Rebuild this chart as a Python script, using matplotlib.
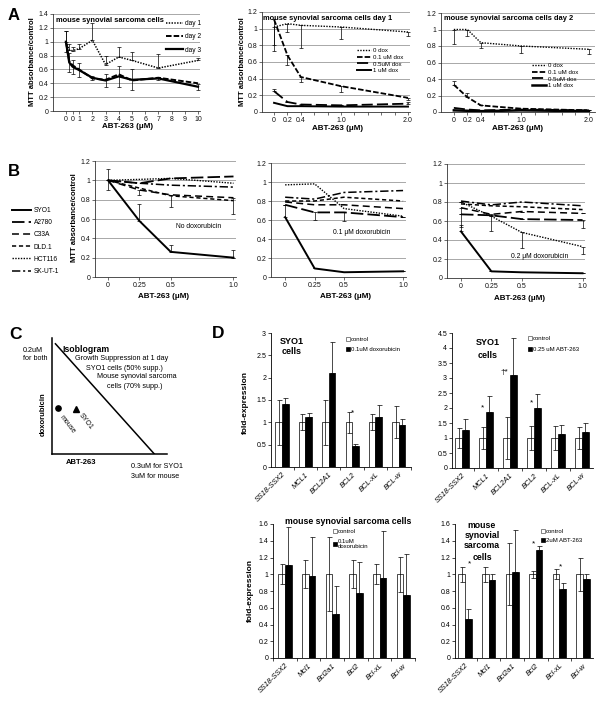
import matplotlib
matplotlib.use("Agg")
import matplotlib.pyplot as plt
from matplotlib.lines import Line2D
from matplotlib.patches import Patch
from matplotlib.ticker import FixedLocator, FuncFormatter
import numpy as np

plt.rcParams['font.family'] = ['Liberation Sans', 'DejaVu Sans']
plt.rcParams['lines.scale_dashes'] = False
plt.rcParams['axes.linewidth'] = 0.6

# ---------------- DATA ----------------
# Panel A1: mouse synovial sarcoma cells, days 1-3
a1_x = [0, 0.25, 0.5, 1, 2, 3, 4, 5, 7, 10]
a1_day1 = [1.0, 0.88, 0.87, 0.90, 1.02, 0.67, 0.78, 0.73, 0.62, 0.73]
a1_day1_err = [0.15, 0.08, 0.06, 0.06, 0.25, 0.13, 0.15, 0.12, 0.20, 0.04]
a1_day2 = [1.0, 0.72, 0.66, 0.60, 0.47, 0.45, 0.53, 0.44, 0.48, 0.40]
a1_day3 = [1.0, 0.70, 0.64, 0.59, 0.48, 0.44, 0.50, 0.45, 0.47, 0.35]
a1_day3_err = [0.15, 0.13, 0.10, 0.10, 0.03, 0.10, 0.15, 0.15, 0.02, 0.04]
a1_xticks = [0, 0.5, 1, 2, 3, 4, 5, 6, 7, 8, 9, 10]
a1_xticklabels = ['0', '0', '1', '2', '3', '4', '5', '6', '7', '8', '9', '10']
a1_labels = ['day 1', 'day 2', 'day 3']

# Panel A2 / A3: dox combinations
a_x = [0, 0.2, 0.4, 1.0, 2.0]
a_labels = ['0 dox', '0.1 uM dox', '0.5uM dox', '1 uM dox']
a2_dox0 = [1.02, 1.06, 1.04, 1.02, 0.96]
a2_dox0_err = [0.22, 0.10, 0.27, 0.14, 0.05]
a2_dox01 = [1.11, 0.68, 0.42, 0.31, 0.17]
a2_dox01_err = [0.38, 0.11, 0.06, 0.07, 0.03]
a2_dox05 = [0.25, 0.12, 0.09, 0.08, 0.10]
a2_dox05_err = [0.03, 0.0, 0.01, 0.01, 0.02]
a2_dox1 = [0.11, 0.07, 0.07, 0.065, 0.065]

a3_dox0 = [1.0, 1.0, 0.84, 0.80, 0.76]
a3_dox0_err = [0.18, 0.08, 0.06, 0.08, 0.06]
a3_dox01 = [0.33, 0.18, 0.08, 0.04, 0.02]
a3_dox01_err = [0.05, 0.05, 0.0, 0.0, 0.0]
a3_dox05 = [0.05, 0.03, 0.02, 0.03, 0.02]
a3_dox1 = [0.02, 0.015, 0.01, 0.02, 0.01]

a23_xticks = [0, 0.2, 0.4, 1.0, 2.0]
a23_xticklabels = ['0', '0.2', '0.4', '1.0', '2.0']

# Panel B: cell lines
b_x = [0, 0.25, 0.5, 1.0]
b_xticklabels = ['0', '0.25', '0.5', '1.0']
b_names = ['SYO1', 'A2780', 'C33A', 'DLD.1', 'HCT116', 'SK-UT-1']
b1_vals = {
    'SYO1':    [1.0, 0.58, 0.26, 0.20],
    'A2780':   [1.0, 0.97, 1.02, 1.04],
    'C33A':    [1.0, 0.90, 0.85, 0.82],
    'DLD.1':   [1.0, 0.92, 0.84, 0.79],
    'HCT116':  [1.0, 1.01, 1.02, 0.97],
    'SK-UT-1': [1.0, 0.97, 0.95, 0.93],
}
b2_vals = {
    'SYO1':    [0.63, 0.09, 0.05, 0.06],
    'A2780':   [0.76, 0.68, 0.68, 0.63],
    'C33A':    [0.79, 0.76, 0.76, 0.72],
    'DLD.1':   [0.80, 0.80, 0.84, 0.80],
    'HCT116':  [0.97, 0.98, 0.72, 0.64],
    'SK-UT-1': [0.84, 0.82, 0.89, 0.91],
}
b3_vals = {
    'SYO1':    [0.49, 0.07, 0.06, 0.05],
    'A2780':   [0.67, 0.66, 0.62, 0.61],
    'C33A':    [0.74, 0.67, 0.70, 0.68],
    'DLD.1':   [0.78, 0.76, 0.75, 0.72],
    'HCT116':  [0.80, 0.65, 0.48, 0.33],
    'SK-UT-1': [0.81, 0.77, 0.80, 0.76],
}
# error bars (series, lower, upper)
b1_err = [('SYO1', [0.10, 0, 0, 0], [0.12, 0.18, 0.07, 0.08]),
          ('C33A', [0, 0.05, 0.13, 0.17], [0, 0, 0, 0])]
b2_err = [('SYO1', [0, 0, 0, 0], [0.13, 0, 0, 0]),
          ('A2780', [0, 0.08, 0.09, 0.0], [0, 0, 0, 0])]
b3_err = [('SYO1', [0, 0, 0, 0], [0.07, 0, 0, 0]),
          ('C33A', [0.2, 0.17, 0.0, 0.0], [0, 0, 0, 0]),
          ('HCT116', [0, 0, 0.16, 0.08], [0, 0, 0, 0]),
          ('A2780', [0, 0, 0.0, 0.08], [0, 0, 0, 0])]
b_notes = ['No doxorubicin', '0.1 \u03bcM doxorubicin', '0.2 \u03bcM doxorubicin']

# Panel C: isobologram
c_iso_x = [0.03, 0.89]
c_iso_y = [0.95, 0.0]
c_mouse = (0.05, 0.40)
c_syo1 = (0.21, 0.39)

# Panel D: fold expression
d_cats_human = ['SS18-SSX2', 'MCL1', 'BCL2A1', 'BCL2', 'BCL-xL', 'BCL-w']
d_cats_mouse = ['SS18-SSX2', 'Mcl1', 'Bcl2a1', 'Bcl2', 'Bcl-xL', 'Bcl-w']

d1_ctrl = [1, 1, 1, 1, 1, 1]
d1_ctrl_err = [0.50, 0.18, 0.50, 0.24, 0.18, 0.36]
d1_trt = [1.40, 1.12, 2.10, 0.46, 1.12, 0.93]
d1_trt_err = [0.15, 0.10, 0.70, 0.06, 0.26, 0.15]
d1_legend = ['control', '0.1uM doxorubicin']

d2_ctrl = [1, 1, 1, 1, 1, 1]
d2_ctrl_err = [0.33, 0.37, 0.70, 0.40, 0.40, 0.37]
d2_trt = [1.28, 1.87, 3.10, 2.00, 1.13, 1.20]
d2_trt_err = [0.34, 0.53, 1.23, 0.47, 0.30, 0.30]
d2_legend = ['control', '0.25 uM ABT-263']

d3_ctrl = [1, 1, 1, 1, 1, 1]
d3_ctrl_err = [0.12, 0.17, 0.44, 0.17, 0.12, 0.21]
d3_trt = [1.11, 0.98, 0.53, 0.78, 0.95, 0.75]
d3_trt_err = [0.45, 0.46, 0.33, 0.37, 0.57, 0.49]
d3_legend = ['control', '0.1uM\ndoxorubicin']

d4_ctrl = [1, 1, 1, 1, 1, 1]
d4_ctrl_err = [0.09, 0.09, 0.37, 0.04, 0.06, 0.20]
d4_trt = [0.46, 0.93, 1.03, 1.29, 0.82, 0.94]
d4_trt_err = [0.13, 0.07, 0.50, 0.05, 0.07, 0.06]
d4_legend = ['control', '2uM ABT-263']

d2_marks = [(0.85, 2.0, '*'), (1.78, 3.18, '\u2020*'), (2.88, 2.17, '*')]
d1_marks = [(3.02, 1.22, '*')]
d4_marks = [(0.18, 1.12, '*'), (2.92, 1.36, '*'), (4.05, 1.09, '*')]

# ---------------- FIGURE ----------------
W, H = 601, 701
fig = plt.figure(figsize=(W / 100, H / 100), dpi=100)
fig.patch.set_facecolor('white')


def px_axes(x0, y0, x1, y1):
    return fig.add_axes([x0 / W, 1 - y1 / H, (x1 - x0) / W, (y1 - y0) / H])


def ftext(x, y, s, **kw):
    kw.setdefault('ha', 'center')
    kw.setdefault('va', 'center')
    return fig.text(x / W, 1 - y / H, s, **kw)


fmt_g = FuncFormatter(lambda v, p: f'{v:g}')
INK = '#111111'


def style_line_axes(ax, ymax):
    ax.set_ylim(0, ymax)
    ax.set_yticks(np.round(np.arange(0, ymax + 0.001, 0.2), 1))
    ax.yaxis.set_major_formatter(fmt_g)
    ax.yaxis.grid(True, color='#a8a8a8', lw=0.7)
    ax.set_axisbelow(True)
    for s in ['top', 'right']:
        ax.spines[s].set_visible(False)
    for s in ['left', 'bottom']:
        ax.spines[s].set_color('#333333')
    ax.tick_params(direction='out', length=2, width=0.5, labelsize=5, pad=1.5,
                   colors='#333333', labelcolor=INK)


def errs(ax, x, y, lo, hi):
    ax.errorbar(x, y, yerr=[lo, hi], fmt='none', ecolor='k', elinewidth=0.5,
                capsize=1.6, capthick=0.5, zorder=4, clip_on=False)


def legend_at(ax, handles, labels, x, y, fs, hl, ls, tp=0.3):
    return ax.legend(handles, labels, loc='upper left',
                     bbox_to_anchor=(x / W, 1 - y / H), bbox_transform=fig.transFigure,
                     frameon=False, fontsize=fs, handlelength=hl, handletextpad=tp,
                     labelspacing=ls, borderpad=0, borderaxespad=0)


# ---- Panel A1 ----
ax = px_axes(53, 14, 200, 111)
style_line_axes(ax, 1.4)
ax.set_xlim(-0.98, 10.15)
l1, = ax.plot(a1_x, a1_day1, color='k', lw=1.1, ls=(0, (1, 1)))
l2, = ax.plot(a1_x, a1_day2, color='k', lw=1.4, ls=(0, (4, 1.5)))
l3, = ax.plot(a1_x, a1_day3, color='k', lw=1.6, ls='-')
errs(ax, a1_x, a1_day1, [0] * len(a1_x), a1_day1_err)
errs(ax, a1_x, a1_day3, a1_day3_err, a1_day3_err)
ax.set_xticks(a1_xticks)
ax.set_xticklabels(a1_xticklabels)
ax.text(0.02, 0.97, 'mouse synovial sarcoma cells', transform=ax.transAxes,
        fontsize=5.4, fontweight='bold', ha='left', va='top')
legend_at(ax, [l1, l2, l3], a1_labels, 166, 20, 4.8, 2.6, 0.95)

# ---- Panel A2 ----
ax = px_axes(262, 12, 410, 112)
style_line_axes(ax, 1.2)
ax.set_xlim(-0.18, 2.03)
h0, = ax.plot(a_x, a2_dox0, color='k', lw=1.0, ls=(0, (1, 1)))
h1, = ax.plot(a_x, a2_dox01, color='k', lw=1.3, ls=(0, (4, 1.5)))
h2, = ax.plot(a_x, a2_dox05, color='k', lw=1.3, ls=(0, (8, 3)))
h3, = ax.plot(a_x, a2_dox1, color='k', lw=1.4, ls='-')
errs(ax, a_x, a2_dox0, a2_dox0_err, [0] * 5)
errs(ax, a_x, a2_dox01, a2_dox01_err, [0] * 5)
errs(ax, a_x, a2_dox05, [0] * 5, a2_dox05_err)
ax.set_xticks(a23_xticks)
ax.set_xticklabels(a23_xticklabels)
ax.xaxis.set_minor_locator(FixedLocator([0.6, 0.8, 1.2, 1.4, 1.6, 1.8]))
ax.tick_params(which='minor', direction='out', length=2, width=0.5, colors='#333333')
ax.text(0.01, 0.975, 'mouse synovial sarcoma cells day 1', transform=ax.transAxes,
        fontsize=5.4, fontweight='bold', ha='left', va='top')
legend_at(ax, [h0, h1, h2, h3], a_labels, 357, 48, 4.4, 2.3, 0.22)

# ---- Panel A3 ----
ax = px_axes(441, 13, 595, 112)
style_line_axes(ax, 1.2)
ax.set_xlim(-0.19, 2.09)
h0, = ax.plot(a_x, a3_dox0, color='k', lw=1.0, ls=(0, (1, 1)))
h1, = ax.plot(a_x, a3_dox01, color='k', lw=1.3, ls=(0, (4, 1.5)))
h2, = ax.plot(a_x, a3_dox05, color='k', lw=1.3, ls=(0, (8, 3)))
h3, = ax.plot(a_x, a3_dox1, color='k', lw=1.8, ls='-')
errs(ax, a_x, a3_dox0, a3_dox0_err, [0] * 5)
errs(ax, a_x, a3_dox01, [0] * 5, a3_dox01_err)
ax.set_xticks(a23_xticks)
ax.set_xticklabels(a23_xticklabels)
ax.xaxis.set_minor_locator(FixedLocator([0.6, 0.8, 1.2, 1.4, 1.6, 1.8]))
ax.tick_params(which='minor', direction='out', length=2, width=0.5, colors='#333333')
ax.text(0.02, 0.975, 'mouse synovial sarcoma cells day 2', transform=ax.transAxes,
        fontsize=5.4, fontweight='bold', ha='left', va='top')
legend_at(ax, [h0, h1, h2, h3], a_labels, 532, 63, 4.4, 2.3, 0.22)

# A labels
ftext(33, 62, 'MTT absorbance/control', rotation=90, fontsize=5.5, fontweight='bold')
ftext(243, 62, 'MTT absorbance/control', rotation=90, fontsize=5.5, fontweight='bold')
ftext(128, 127, 'ABT-263 (\u03bcM)', fontsize=5.8, fontweight='bold')
ftext(338, 128, 'ABT-263 (\u03bcM)', fontsize=5.8, fontweight='bold')
ftext(518, 129, 'ABT-263 (\u03bcM)', fontsize=5.8, fontweight='bold')

# ---- Panel B ----
b_styles = {
    'SYO1':    dict(ls='-', lw=1.4),
    'A2780':   dict(ls=(0, (9, 3)), lw=1.3),
    'C33A':    dict(ls=(0, (5, 3)), lw=1.1),
    'DLD.1':   dict(ls=(0, (3, 2)), lw=1.1),
    'HCT116':  dict(ls=(0, (1, 1)), lw=1.0),
    'SK-UT-1': dict(ls=(0, (6, 2, 1.5, 2)), lw=1.1),
}
b_boxes = [(95, 161, 236, 277, (-0.104, 1.02)),
           (271, 163, 406, 277, (-0.12, 1.025)),
           (447, 164, 585, 278, (-0.115, 1.02))]
b_sets = [b1_vals, b2_vals, b3_vals]
b_errsets = [b1_err, b2_err, b3_err]
b_note_pos = [(199, 227), (362, 232), (540, 256)]
b_handles = []
for i, (box, vals, eset) in enumerate(zip(b_boxes, b_sets, b_errsets)):
    x0, y0, x1, y1, xl = box
    ax = px_axes(x0, y0, x1, y1)
    style_line_axes(ax, 1.2)
    ax.set_xlim(*xl)
    hs = []
    for name in b_names:
        h, = ax.plot(b_x, vals[name], color='k', **b_styles[name])
        hs.append(h)
    if i == 0:
        b_handles = hs
    for name, lo, hi in eset:
        errs(ax, b_x, vals[name], lo, hi)
    ax.set_xticks(b_x)
    ax.set_xticklabels(b_xticklabels)
    ftext(*b_note_pos[i], b_notes[i], fontsize=4.9)

fig.legend(b_handles, b_names, loc='upper left', bbox_to_anchor=(12 / W, 1 - 207 / H),
           frameon=False, fontsize=4.8, handlelength=2.9, handletextpad=0.35,
           labelspacing=0.78, borderpad=0, borderaxespad=0)
ftext(74, 218, 'MTT absorbance/control', rotation=90, fontsize=5.5, fontweight='bold')
ftext(163, 297, 'ABT-263 (\u03bcM)', fontsize=5.8, fontweight='bold')
ftext(345, 297, 'ABT-263 (\u03bcM)', fontsize=5.8, fontweight='bold')
ftext(520, 298, 'ABT-263 (\u03bcM)', fontsize=5.8, fontweight='bold')

# ---- Panel C ----
ax = px_axes(52, 338, 167, 454)
ax.set_xlim(0, 1)
ax.set_ylim(0, 1)
ax.set_xticks([])
ax.set_yticks([])
for s in ['top', 'right']:
    ax.spines[s].set_visible(False)
for s in ['left', 'bottom']:
    ax.spines[s].set_linewidth(1.1)
ax.plot(c_iso_x, c_iso_y, color='k', lw=1.1)
ax.plot([c_mouse[0]], [c_mouse[1]], 'o', color='k', ms=3.8, clip_on=False)
ax.plot([c_syo1[0]], [c_syo1[1]], '^', color='k', ms=3.8, clip_on=False)
ftext(23, 350, '0.2uM', fontsize=5.2, ha='left')
ftext(23, 359, 'for both', fontsize=5.2, ha='left')
ftext(62, 349, 'Isoblogram', fontsize=6.2, fontweight='bold', ha='left')
ftext(122, 359, 'Growth Suppression at 1 day', fontsize=5.2)
ftext(124, 368, 'SYO1 cells (50% supp.)', fontsize=5.2)
ftext(137, 377, 'Mouse synovial sarcoma', fontsize=5.2)
ftext(135, 387, 'cells (70% supp.)', fontsize=5.2)
ftext(43, 414, 'doxorubicin', rotation=90, fontsize=5.5, fontweight='bold')
ftext(67, 424, 'mouse', rotation=-52, fontsize=5.0)
ftext(86, 421, 'SYO1', rotation=-52, fontsize=5.0)
ftext(81, 463, 'ABT-263', fontsize=5.5, fontweight='bold')
ftext(131, 467, '0.3uM for SYO1', fontsize=5.2, ha='left')
ftext(131, 476, '3uM for mouse', fontsize=5.2, ha='left')

# ---- Panel D ----
def bar_panel(box, xl, cats, ctrl, ctrl_err, trt, trt_err, ymax, ystep):
    x0, y0, x1, y1 = box
    ax = px_axes(x0, y0, x1, y1)
    xs = np.arange(len(cats))
    w = 0.28
    ekw = dict(ecolor='k', elinewidth=0.5, capsize=1.8, capthick=0.5)
    ax.bar(xs - w / 2, ctrl, w, color='white', edgecolor='k', lw=0.5,
           yerr=[ctrl_err, ctrl_err], error_kw=ekw, zorder=2)
    ax.bar(xs + w / 2, trt, w, color='k', edgecolor='k', lw=0.5,
           yerr=[[0] * len(trt), trt_err], error_kw=ekw, zorder=2)
    ax.set_xlim(*xl)
    ax.set_ylim(0, ymax)
    ax.set_yticks(np.round(np.arange(0, ymax + 0.001, ystep), 2))
    ax.yaxis.set_major_formatter(fmt_g)
    ax.set_xticks(xs)
    ax.set_xticklabels(cats, rotation=45, ha='right', rotation_mode='anchor',
                       fontstyle='italic', fontsize=5.3)
    ax.xaxis.set_minor_locator(FixedLocator(np.arange(-0.5, len(cats) + 0.5, 1.0)))
    ax.tick_params(axis='x', which='major', length=0, pad=3)
    ax.tick_params(axis='x', which='minor', direction='out', length=2, width=0.5)
    ax.tick_params(axis='y', direction='out', length=2, width=0.5, labelsize=5, pad=1.5)
    for s in ['top', 'right']:
        ax.spines[s].set_visible(False)
    return ax


def d_legend(ax, labels, x, y, ls):
    hs = [Patch(facecolor='white', edgecolor='#555555', lw=0.5),
          Patch(facecolor='k', edgecolor='k', lw=0.5)]
    return ax.legend(hs, labels, loc='upper left', bbox_to_anchor=(x / W, 1 - y / H),
                     bbox_transform=fig.transFigure, frameon=False, fontsize=4.3,
                     handlelength=0.7, handleheight=0.7, handletextpad=0.15,
                     labelspacing=ls, borderpad=0, borderaxespad=0)


ax = bar_panel((271, 333, 411, 467), (-0.47, 5.52), d_cats_human,
               d1_ctrl, d1_ctrl_err, d1_trt, d1_trt_err, 3.0, 0.5)
for mx, my, ms in d1_marks:
    ax.text(mx, my, ms, fontsize=6, ha='center', va='center')
d_legend(ax, d1_legend, 346, 337, 0.75)
ftext(292, 341, 'SYO1', fontsize=6.5, fontweight='bold')
ftext(292, 352, 'cells', fontsize=6.5, fontweight='bold')

ax = bar_panel((452, 333, 593, 468), (-0.42, 5.46), d_cats_human,
               d2_ctrl, d2_ctrl_err, d2_trt, d2_trt_err, 4.5, 0.5)
for mx, my, ms in d2_marks:
    ax.text(mx, my, ms, fontsize=6, ha='center', va='center')
d_legend(ax, d2_legend, 528, 336, 0.9)
ftext(488, 343, 'SYO1', fontsize=6.5, fontweight='bold')
ftext(488, 355, 'cells', fontsize=6.5, fontweight='bold')

ax = bar_panel((273, 524, 415, 658), (-0.51, 5.5), d_cats_mouse,
               d3_ctrl, d3_ctrl_err, d3_trt, d3_trt_err, 1.6, 0.2)
d_legend(ax, d3_legend, 333, 529, 0.75)
ftext(348, 521, 'mouse synovial sarcoma cells', fontsize=6.3, fontweight='bold')

ax = bar_panel((455, 524, 593, 658), (-0.42, 5.42), d_cats_mouse,
               d4_ctrl, d4_ctrl_err, d4_trt, d4_trt_err, 1.6, 0.2)
for mx, my, ms in d4_marks:
    ax.text(mx, my, ms, fontsize=6, ha='center', va='center')
d_legend(ax, d4_legend, 541, 529, 0.6)
for yy, s in zip([526, 536, 546, 557], ['mouse', 'synovial', 'sarcoma', 'cells']):
    ftext(482, yy, s, fontsize=6.3, fontweight='bold')

ftext(245, 403, 'fold-expression', rotation=90, fontsize=6, fontweight='bold')
ftext(250, 590, 'fold-expression', rotation=90, fontsize=6, fontweight='bold')

# panel letters
ftext(14, 16, 'A', fontsize=12, fontweight='bold')
ftext(14, 171, 'B', fontsize=12, fontweight='bold')
ftext(16, 335, 'C', fontsize=12.5, fontweight='bold')
ftext(218, 333, 'D', fontsize=12.5, fontweight='bold')

fig.savefig('out.png', dpi=100, facecolor='white')
